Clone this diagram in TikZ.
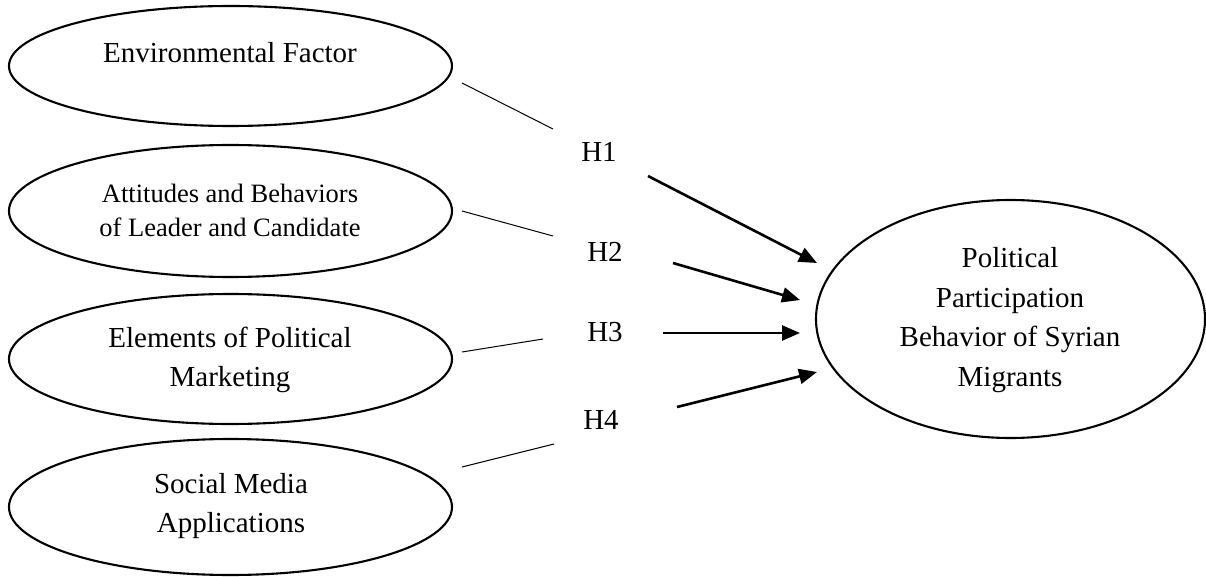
\documentclass[tikz,border=0pt]{standalone}
\usepackage{fontspec}
\setmainfont{Liberation Serif}
\usetikzlibrary{shapes.geometric,arrows.meta}
\begin{document}
\begin{tikzpicture}[x=1pt,y=-1pt,
  oval/.style={draw,line width=2.1pt,ellipse,inner sep=0pt},
  txt/.style={align=center,inner sep=0pt,font=\fontsize{29}{38.5}\selectfont},
  thin/.style={line width=1pt},
  hyp/.style={line width=2.6pt,-{Triangle[length=18pt,width=15pt]}},
  hlab/.style={inner sep=0pt,font=\fontsize{29}{35}\selectfont}]
\useasboundingbox (0,0) rectangle (1206,577);
% left ellipses
\node[oval,minimum width=443pt,minimum height=120pt] (e1) at (230.5,66) {};
\node[txt] (t1) at (230,53) {Environmental Factor};
\node[oval,minimum width=443pt,minimum height=132pt] (e2) at (230.5,211) {};
\node[txt,font=\fontsize{26.5}{34}\selectfont] (t2) at (230,210) {Attitudes and Behaviors\\of Leader and Candidate};
\node[oval,minimum width=443pt,minimum height=130pt] (e3) at (230.5,359) {};
\node[txt] (t3) at (230,360) {Elements of Political\\Marketing};
\node[oval,minimum width=443pt,minimum height=136pt] (e4) at (230.5,507) {};
\node[txt] (t4) at (231,506) {Social Media\\Applications};
% right ellipse
\node[oval,minimum width=389pt,minimum height=238pt] (r) at (1010.5,319) {};
\node[txt,font=\fontsize{29}{39.5}\selectfont] (tr) at (1010,320) {Political\\Participation\\Behavior of Syrian\\Migrants};
% hypothesis labels
\node[hlab] (h1) at (599,152) {H1};
\node[hlab] (h2) at (605,252) {H2};
\node[hlab] (h3) at (605,332) {H3};
\node[hlab] (h4) at (601,420) {H4};
% thin line end points
\coordinate (s1) at (462,83);  \coordinate (u1) at (553,129);
\coordinate (s2) at (462,211); \coordinate (u2) at (553,236);
\coordinate (s3) at (462,352); \coordinate (u3) at (543,339);
\coordinate (s4) at (462,467); \coordinate (u4) at (554,444);
\draw[thin] (s1) -- (u1);
\draw[thin] (s2) -- (u2);
\draw[thin] (s3) -- (u3);
\draw[thin] (s4) -- (u4);
% arrows
\coordinate (a1) at (648,176); \coordinate (b1) at (817,263);
\coordinate (a2) at (673,263); \coordinate (b2) at (800,300);
\coordinate (a3) at (663,333); \coordinate (b3) at (800,333);
\coordinate (a4) at (677,407); \coordinate (b4) at (817,372);
\draw[hyp] (a1) -- (b1);
\draw[hyp] (a2) -- (b2);
\draw[hyp] (a3) -- (b3);
\draw[hyp] (a4) -- (b4);
\end{tikzpicture}
\end{document}
